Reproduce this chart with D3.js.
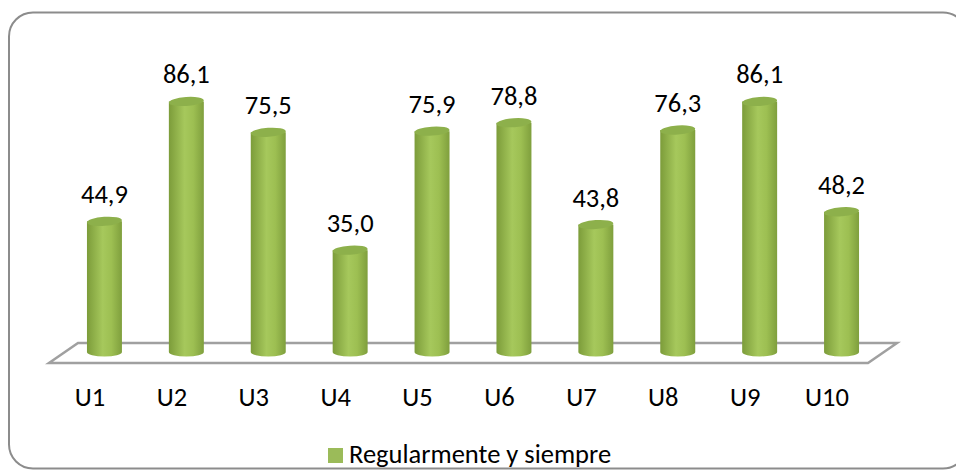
<!DOCTYPE html>
<html lang="en">
<head>
<meta charset="UTF-8">
<title>Regularmente y siempre</title>
<script src="https://d3js.org/d3.v7.min.js"></script>
<style>
  body { margin: 0; background: #fff; }
  text { font-family: Carlito, Calibri, Lato, sans-serif; fill: #000; }
</style>
</head>
<body>
<div id="chart"></div>
<script>
// data
var categories = ["U1", "U2", "U3", "U4", "U5", "U6", "U7", "U8", "U9", "U10"];
var values = [44.9, 86.1, 75.5, 35.0, 75.9, 78.8, 43.8, 76.3, 86.1, 48.2];
var seriesName = "Regularmente y siempre";

var W = 956, H = 472;
var fs = "26.5px";
var svg = d3.select("#chart").append("svg")
    .attr("width", W).attr("height", H);

var defs = svg.append("defs");
var grad = defs.append("linearGradient").attr("id", "cyl")
    .attr("x1", "0%").attr("x2", "100%").attr("y1", "0%").attr("y2", "0%");
grad.append("stop").attr("offset", "0%").attr("stop-color", "#7c9c3a");
grad.append("stop").attr("offset", "45%").attr("stop-color", "#a6c85c");
grad.append("stop").attr("offset", "70%").attr("stop-color", "#9dbf52");
grad.append("stop").attr("offset", "100%").attr("stop-color", "#7f9f3d");

// outer frame (right edge runs past the canvas)
svg.append("rect")
    .attr("x", 9).attr("y", 12.5).attr("width", 958).attr("height", 456)
    .attr("rx", 24).attr("ry", 24)
    .attr("fill", "none").attr("stroke", "#8c8c8c").attr("stroke-width", 2);

// floor (3D)
var front = {y: 363, x0: 49, x1: 868};
var back = {y: 343, x0: 78, x1: 897};
var depth = back.x0 - front.x0;

svg.append("path")
    .attr("d", "M" + front.x0 + "," + front.y + "L" + front.x1 + "," + front.y +
               "L" + back.x1 + "," + back.y + "L" + back.x0 + "," + back.y + "Z")
    .attr("fill", "none").attr("stroke", "#a0a0a0").attr("stroke-width", 2.5);

// scales
var y = d3.scaleLinear().domain([0, 100]).range([352, 61]);
var xLab = d3.scaleBand().domain(categories).range([front.x0, front.x1]);
var xBar = d3.scaleBand().domain(categories)
    .range([front.x0 + depth / 2, front.x1 + depth / 2])
    .paddingInner(0.573).paddingOuter(0.573 / 2);

var bw = xBar.bandwidth(), ry = 4.5;

var bars = svg.append("g").selectAll("g").data(values).enter().append("g");

// cylinder body
bars.append("path")
    .attr("d", function(d, i) {
        var x0 = xBar(categories[i]), x1 = x0 + bw, yt = y(d), yb = y(0);
        return "M" + x0 + "," + yt + "L" + x0 + "," + yb +
               "A" + (bw / 2) + "," + ry + " 0 0 0 " + x1 + "," + yb +
               "L" + x1 + "," + yt + "Z";
    })
    .attr("fill", "url(#cyl)");

// top ellipse
bars.append("ellipse")
    .attr("cx", function(d, i) { return xBar(categories[i]) + bw / 2; })
    .attr("cy", function(d) { return y(d); })
    .attr("rx", bw / 2).attr("ry", ry)
    .attr("transform", function(d, i) {
        return "rotate(-4," + (xBar(categories[i]) + bw / 2) + "," + y(d) + ")";
    })
    .attr("fill", "#8db04b");

// value labels
bars.append("text")
    .attr("x", function(d, i) { return xBar(categories[i]) + bw / 2; })
    .attr("y", function(d) { return y(d) - 18; })
    .attr("text-anchor", "middle")
    .style("font-size", fs)
    .text(function(d) { return d.toFixed(1).replace(".", ","); });

// category labels
svg.append("g").selectAll("text").data(categories).enter().append("text")
    .attr("x", function(d) { return xLab(d) + xLab.bandwidth() / 2; })
    .attr("y", 406)
    .attr("text-anchor", "middle")
    .style("font-size", fs)
    .text(function(d) { return d; });

// legend
var leg = svg.append("g");
leg.append("rect").attr("x", 328).attr("y", 448).attr("width", 15).attr("height", 15)
    .attr("fill", "#9bbb59");
leg.append("text").attr("x", 349).attr("y", 463)
    .style("font-size", fs)
    .text(seriesName);
</script>
</body>
</html>
